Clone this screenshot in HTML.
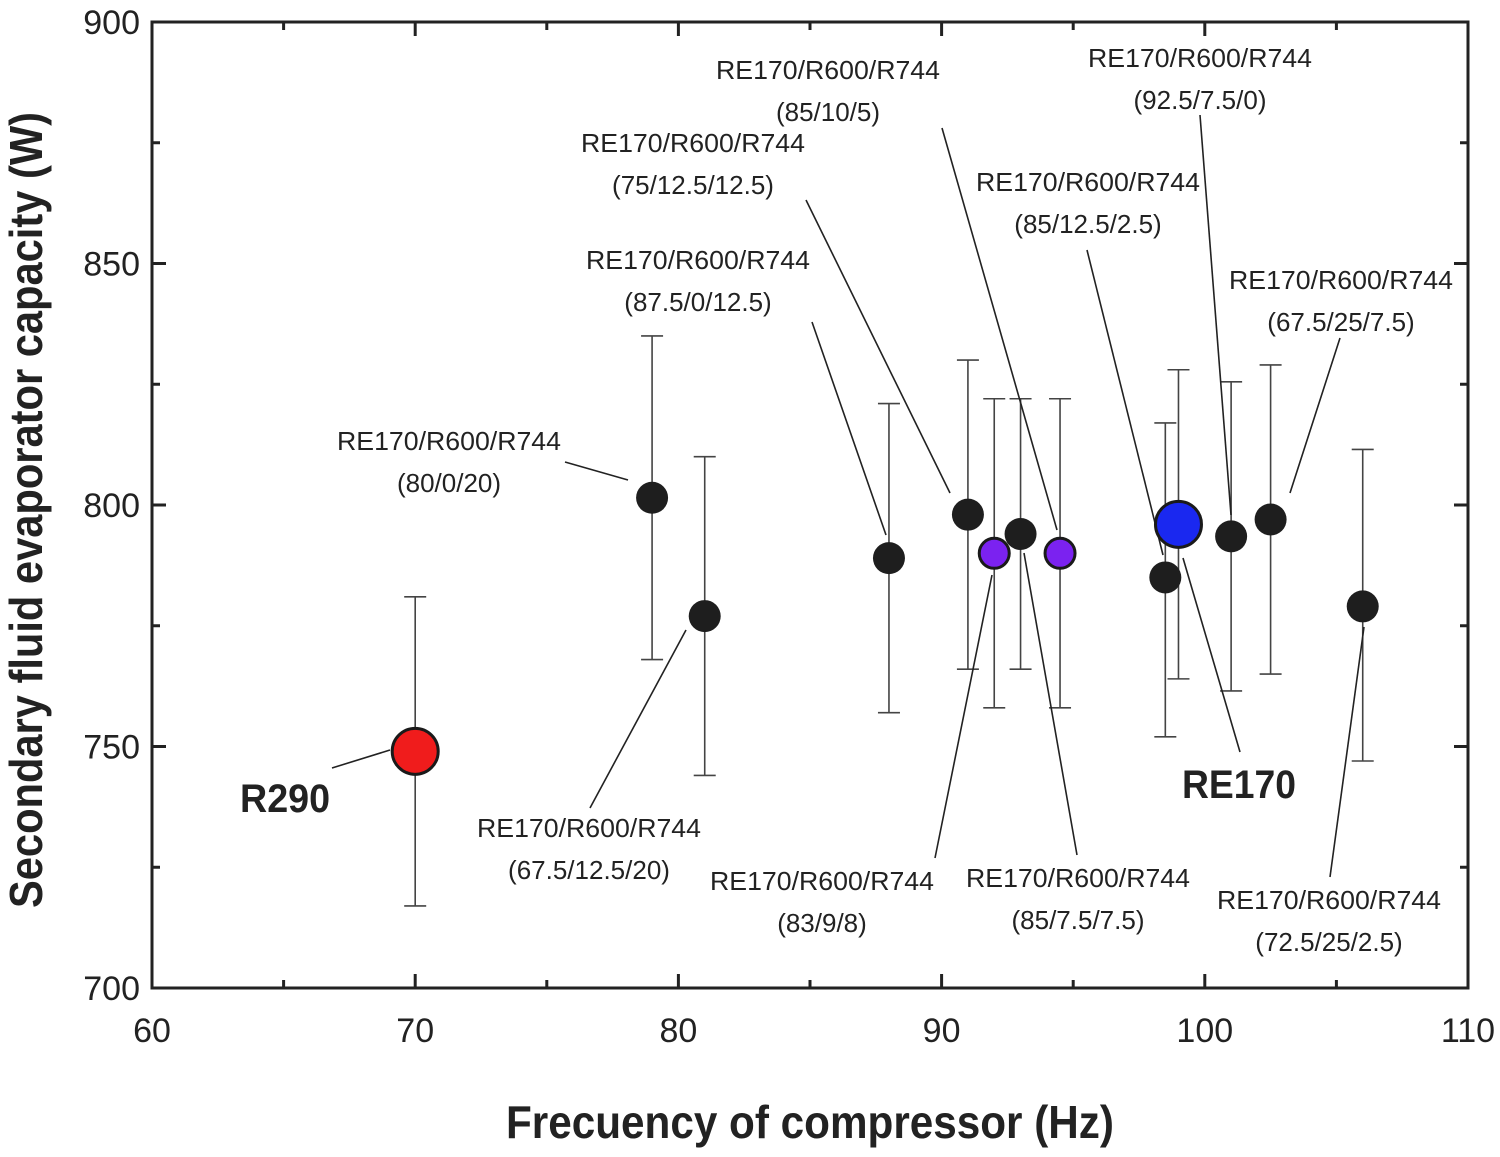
<!DOCTYPE html>
<html><head><meta charset="utf-8"><style>
body{margin:0;background:#fff}
svg text{font-family:"Liberation Sans Narrow","Liberation Sans",sans-serif}
</style></head><body>
<svg id="chart" width="1500" height="1152" viewBox="0 0 1500 1152" xmlns="http://www.w3.org/2000/svg">
<g id="axes"></g>
<g id="errs"></g>
<g id="leaders" stroke="#222" stroke-width="1.6"></g>
<g id="points"></g>
<g id="labels" font-size="26" fill="#222" text-anchor="middle"></g>
<text x="810" y="1138" font-size="46" font-weight="bold" text-anchor="middle" fill="#222" textLength="608" lengthAdjust="spacingAndGlyphs">Frecuency of compressor (Hz)</text>
<text transform="translate(42,510) rotate(-90)" font-size="46" font-weight="bold" text-anchor="middle" fill="#222" textLength="796" lengthAdjust="spacingAndGlyphs">Secondary fluid evaporator capacity (W)</text>
</svg>
<script>
const xTicks=[60,70,80,90,100,110];
const yTicks=[700,750,800,850,900];
const freq=[70,79,81,88,91,92,93,94.5,98.5,99,101,102.5,106];
const capacity=[749,801.5,777,789,798,790,794,790,785,796,793.5,797,779];
const errLow=[717,768,744,757,766,758,766,758,752,764,761.5,765,747];
const errHigh=[781,835,810,821,830,822,822,822,817,828,825.5,829,811.5];
const kind=['red','black','black','black','black','purple','black','purple','black','blue','black','black','black'];
const X0=152,X1=1468,Y0=988,Y1=22;
const sx=v=>X0+(v-60)/50*(X1-X0);
const sy=v=>Y0-(v-700)/200*(Y0-Y1);
const NS='http://www.w3.org/2000/svg';
function mk(p,t,a){const e=document.createElementNS(NS,t);for(const k in a)e.setAttribute(k,a[k]);p.appendChild(e);return e;}
const ax=document.getElementById('axes');
const frame=mk(ax,'rect',{x:X0,y:Y1,width:X1-X0,height:Y0-Y1,fill:'none',stroke:'#222','stroke-width':3});


for(let v=60;v<=110;v+=5){const x=sx(v),L=v%10==0?14:8;
 mk(ax,'line',{x1:x,x2:x,y1:Y0,y2:Y0-L,stroke:'#222','stroke-width':3});
 mk(ax,'line',{x1:x,x2:x,y1:Y1,y2:Y1+L,stroke:'#222','stroke-width':3});}
for(let v=700;v<=900;v+=25){const y=sy(v),L=v%50==0?14:8;
 mk(ax,'line',{x1:X0,x2:X0+L,y1:y,y2:y,stroke:'#222','stroke-width':3});
 mk(ax,'line',{x1:X1,x2:X1-L,y1:y,y2:y,stroke:'#222','stroke-width':3});}
xTicks.forEach(v=>{const t=mk(ax,'text',{x:sx(v),y:Y0+54,'font-size':34,'text-anchor':'middle',fill:'#222'});t.textContent=v;
 
 });
yTicks.forEach(v=>{const t=mk(ax,'text',{x:X0-12,y:sy(v)+12,'font-size':34,'text-anchor':'end',fill:'#222'});t.textContent=v;
 
 });
const eg=document.getElementById('errs'),pg=document.getElementById('points');
const col={red:['#f01c1c',23],black:['#1e1e1e',16],purple:['#7b22f0',15],blue:['#1a28f0',23]};
freq.forEach((f,i)=>{const x=sx(f);
 const l=mk(eg,'path',{d:`M${x-11},${sy(errLow[i])}H${x+11}M${x-11},${sy(errHigh[i])}H${x+11}M${x},${sy(errLow[i])}V${sy(errHigh[i])}`,stroke:'#444','stroke-width':1.6,fill:'none'});
 
 
 const c=col[kind[i]];
 const p=mk(pg,'circle',{cx:x,cy:sy(capacity[i]),r:c[1],fill:c[0],stroke:'#1a1a1a','stroke-width':kind[i]=='black'?0:3});
 
 });
const leaders=[[332,768,390,750],[565,462,628,480],[590,808,686,630],[812,322,886,535],[806,200,950,493],[942,128,1057,530],[935,858,992,575],[1077,855,1024,553],[1087,250,1163,555],[1200,115,1231,515],[1240,752,1183,558],[1340,338,1290,493],[1330,877,1364,627]];
const lg=document.getElementById('leaders');
leaders.forEach(a=>{const l=mk(lg,'line',{x1:a[0],y1:a[1],x2:a[2],y2:a[3]});
 
 });
const labs=[[449,'(80/0/20)'],[589,'(67.5/12.5/20)',828],[698,'(87.5/0/12.5)',260],[693,'(75/12.5/12.5)',143],[828,'(85/10/5)',70],[822,'(83/9/8)',881],[1078,'(85/7.5/7.5)',878],[1088,'(85/12.5/2.5)',182],[1200,'(92.5/7.5/0)',58],[1341,'(67.5/25/7.5)',280],[1329,'(72.5/25/2.5)',900]];
labs[0][2]=441;
const lb=document.getElementById('labels');
labs.forEach(a=>{const t=mk(lb,'text',{x:a[0],y:a[2]+9,textLength:224,lengthAdjust:'spacingAndGlyphs'});t.textContent='RE170/R600/R744';
 
 
 const t2=mk(lb,'text',{x:a[0],y:a[2]+51});t2.textContent=a[1];
 
 });
const r1=mk(lb,'text',{x:285,y:812,'font-size':40,'font-weight':'bold',textLength:90,lengthAdjust:'spacingAndGlyphs'});r1.textContent='R290';


const r2=mk(lb,'text',{x:1239,y:798,'font-size':40,'font-weight':'bold',textLength:114,lengthAdjust:'spacingAndGlyphs'});r2.textContent='RE170';


</script>
</body></html>
